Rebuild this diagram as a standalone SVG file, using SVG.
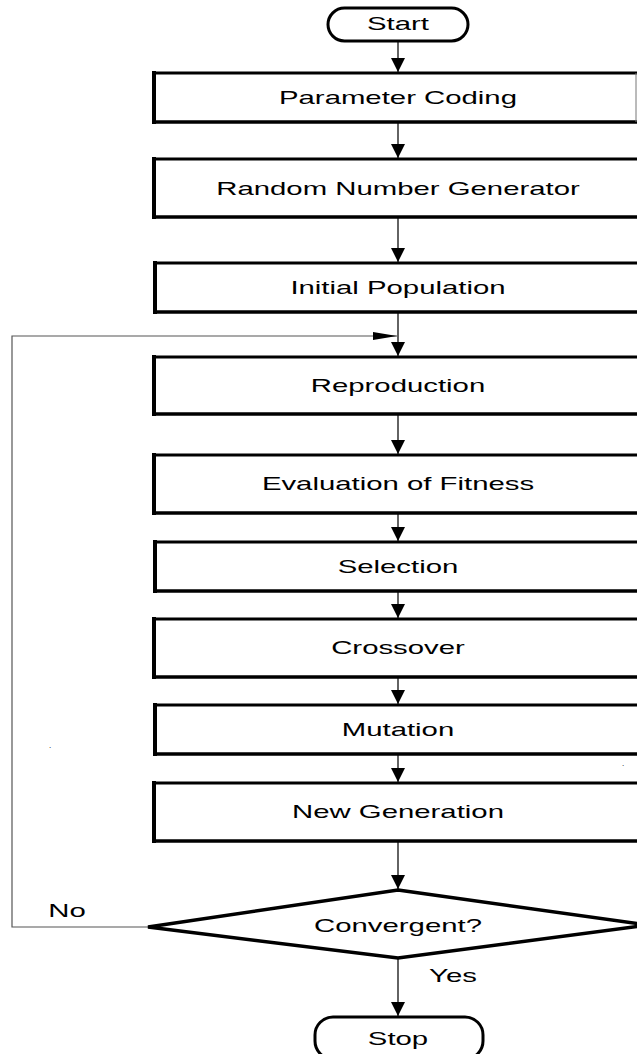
<svg xmlns="http://www.w3.org/2000/svg" width="637" height="1054" viewBox="0 0 637 1054">
<style>
.t{font-family:"Liberation Sans",Arial,sans-serif;font-size:18px;fill:#000;text-anchor:middle}
.edge{fill:none;stroke:#000;stroke-linecap:square}
.thin{fill:none;stroke:#777;stroke-width:1}
.conn{fill:none;stroke:#222;stroke-width:1.4}
.loop{fill:none;stroke:#555;stroke-width:1.2}
.term{fill:#fff;stroke:#000;stroke-width:3}
</style>
<defs>
<marker id="ah" viewBox="0 0 14 14" refX="14" refY="7" markerWidth="14" markerHeight="14" markerUnits="userSpaceOnUse" orient="auto">
<path d="M0,0 L14,7 L0,14 Z" fill="#000"/>
</marker>
<marker id="ahl" viewBox="0 0 24 8" refX="24" refY="4" markerWidth="24" markerHeight="8" markerUnits="userSpaceOnUse" orient="auto">
<path d="M0,0 L24,4 L0,8 Z" fill="#000"/>
</marker>
</defs>
<rect width="637" height="1054" fill="#fff"/>

<g id="connectors">
<path class="conn" d="M398,42 V72" marker-end="url(#ah)"/>
<path class="conn" d="M398,123 V158" marker-end="url(#ah)"/>
<path class="conn" d="M398,218 V262" marker-end="url(#ah)"/>
<path class="conn" d="M398,313 V356" marker-end="url(#ah)"/>
<path class="conn" d="M398,415 V454" marker-end="url(#ah)"/>
<path class="conn" d="M398,514 V541" marker-end="url(#ah)"/>
<path class="conn" d="M398,592 V618" marker-end="url(#ah)"/>
<path class="conn" d="M398,678 V704" marker-end="url(#ah)"/>
<path class="conn" d="M398,755 V782" marker-end="url(#ah)"/>
<path class="conn" d="M398,842 V889" marker-end="url(#ah)"/>
<path class="conn" d="M398,959 V1016" marker-end="url(#ah)"/>
<path class="loop" d="M148,927 H12 V336 H397" marker-end="url(#ahl)"/>
</g>

<g id="start">
<rect class="term" x="328" y="8" width="140" height="33" rx="16.5"/>
<text class="t" transform="translate(398,30) scale(1.63,1)">Start</text>
</g>

<g id="parameter-coding">
<path class="edge" stroke-width="3" d="M154,73 H636"/>
<path class="edge" stroke-width="3.5" d="M154,122 H636"/>
<path class="edge" stroke-width="4" d="M154,73 V122"/>
<path class="thin" d="M636,73 V122"/>
<text class="t" transform="translate(398,104) scale(1.63,1)">Parameter Coding</text>
</g>

<g id="random-number-generator">
<path class="edge" stroke-width="3" d="M154,159 H645"/>
<path class="edge" stroke-width="3.5" d="M154,217 H645"/>
<path class="edge" stroke-width="4" d="M154,159 V217"/>
<text class="t" transform="translate(398,195) scale(1.63,1)">Random Number Generator</text>
</g>

<g id="initial-population">
<path class="edge" stroke-width="3" d="M155,263 H645"/>
<path class="edge" stroke-width="3.5" d="M155,312 H645"/>
<path class="edge" stroke-width="4" d="M155,263 V312"/>
<text class="t" transform="translate(398,294) scale(1.63,1)">Initial Population</text>
</g>

<g id="reproduction">
<path class="edge" stroke-width="3" d="M154,357 H645"/>
<path class="edge" stroke-width="3.5" d="M154,414 H645"/>
<path class="edge" stroke-width="4" d="M154,357 V414"/>
<text class="t" transform="translate(398,392) scale(1.63,1)">Reproduction</text>
</g>

<g id="evaluation-of-fitness">
<path class="edge" stroke-width="3" d="M154,455 H645"/>
<path class="edge" stroke-width="3.5" d="M154,513 H645"/>
<path class="edge" stroke-width="4" d="M154,455 V513"/>
<text class="t" transform="translate(398,490) scale(1.63,1)">Evaluation of Fitness</text>
</g>

<g id="selection">
<path class="edge" stroke-width="3" d="M155,542 H645"/>
<path class="edge" stroke-width="3.5" d="M155,591 H645"/>
<path class="edge" stroke-width="4" d="M155,542 V591"/>
<text class="t" transform="translate(398,573) scale(1.63,1)">Selection</text>
</g>

<g id="crossover">
<path class="edge" stroke-width="3" d="M154,619 H645"/>
<path class="edge" stroke-width="3.5" d="M154,677 H645"/>
<path class="edge" stroke-width="4" d="M154,619 V677"/>
<text class="t" transform="translate(398,654) scale(1.63,1)">Crossover</text>
</g>

<g id="mutation">
<path class="edge" stroke-width="3" d="M155,705 H645"/>
<path class="edge" stroke-width="3.5" d="M155,754 H645"/>
<path class="edge" stroke-width="4" d="M155,705 V754"/>
<text class="t" transform="translate(398,736) scale(1.63,1)">Mutation</text>
</g>

<g id="new-generation">
<path class="edge" stroke-width="3" d="M154,783 H645"/>
<path class="edge" stroke-width="3.5" d="M154,841 H645"/>
<path class="edge" stroke-width="4" d="M154,783 V841"/>
<text class="t" transform="translate(398,818) scale(1.63,1)">New Generation</text>
</g>

<g id="convergent">
<path d="M398,890 L648,925 L398,958 L148,927 Z" fill="#fff" stroke="#000" stroke-width="3.5" stroke-linejoin="miter"/>
<text class="t" transform="translate(398,932) scale(1.63,1)">Convergent?</text>
</g>

<g id="stop">
<rect class="term" x="315" y="1017" width="168" height="42" rx="18"/>
<text class="t" transform="translate(398,1045) scale(1.63,1)">Stop</text>
</g>

<g id="labels">
<text class="t" transform="translate(67,917) scale(1.63,1)">No</text>
<text class="t" transform="translate(453,982) scale(1.63,1)">Yes</text>
<text class="t" style="font-size:8px" x="50" y="748">.</text>
<text class="t" style="font-size:8px" x="623" y="766">.</text>
</g>
</svg>
